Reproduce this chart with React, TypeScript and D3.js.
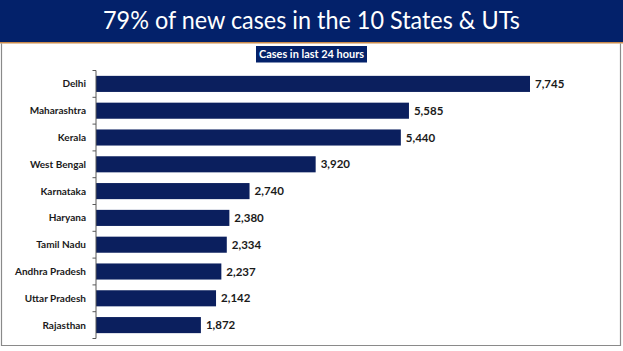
import { useEffect, useRef } from 'react';
import * as d3 from 'd3';

const states = [
  'Delhi',
  'Maharashtra',
  'Kerala',
  'West Bengal',
  'Karnataka',
  'Haryana',
  'Tamil Nadu',
  'Andhra Pradesh',
  'Uttar Pradesh',
  'Rajasthan',
];
const cases = [7745, 5585, 5440, 3920, 2740, 2380, 2334, 2237, 2142, 1872];

const titleText = '79% of new cases in the 10 States & UTs';
const subtitleText = 'Cases in last 24 hours';

export default function App() {
  const svgRef = useRef<SVGSVGElement>(null);

  useEffect(() => {
    if (!svgRef.current) return;
    const width = 623;
    const height = 351;
    const svg = d3.select(svgRef.current);
    svg.selectAll('*').remove();

    const navy = '#0b1f5e';

    svg.append('rect').attr('width', width).attr('height', height).attr('fill', '#fff');

    // title band
    svg.append('rect').attr('x', 0).attr('y', 0).attr('width', width).attr('height', 42).attr('fill', '#03216a');
    svg.append('rect').attr('x', 0).attr('y', 42).attr('width', width).attr('height', 1.5).attr('fill', '#c98a4b');
    svg
      .append('text')
      .attr('x', 311.5)
      .attr('y', 29)
      .attr('text-anchor', 'middle')
      .attr('font-family', 'Lato, sans-serif')
      .attr('font-size', 24.5)
      .attr('textLength', 417)
      .attr('lengthAdjust', 'spacingAndGlyphs')
      .attr('fill', '#fff')
      .text(titleText);

    // frame
    svg
      .append('path')
      .attr('d', `M1.5,43.5 V345.5 H620.5 V43.5`)
      .attr('fill', 'none')
      .attr('stroke', '#8a8a8a')
      .attr('stroke-width', 1.2);

    // subtitle box
    svg.append('rect').attr('x', 256).attr('y', 46).attr('width', 111).attr('height', 16.5).attr('fill', '#03216a');
    svg
      .append('text')
      .attr('x', 311.5)
      .attr('y', 58)
      .attr('text-anchor', 'middle')
      .attr('font-family', 'Lato, sans-serif')
      .attr('font-weight', 700)
      .attr('font-size', 10.5)
      .attr('textLength', 105)
      .attr('lengthAdjust', 'spacingAndGlyphs')
      .attr('fill', '#fff')
      .text(subtitleText);

    const x = d3.scaleLinear().domain([0, 7745]).range([96, 530]);
    const y = d3.scaleBand().domain(states).range([70.5, 338.5]).paddingInner(0.4).paddingOuter(0.2);

    const g = svg.append('g');

    g.selectAll('rect.bar')
      .data(states)
      .enter()
      .append('rect')
      .attr('class', 'bar')
      .attr('x', x(0))
      .attr('y', (d) => y(d)!)
      .attr('width', (_, i) => x(cases[i]) - x(0))
      .attr('height', y.bandwidth())
      .attr('fill', navy);

    // axis line and ticks at band boundaries
    const step = y.step();
    const top = y.range()[0];
    g.append('line')
      .attr('x1', 96)
      .attr('x2', 96)
      .attr('y1', top)
      .attr('y2', top + step * states.length)
      .attr('stroke', '#595959')
      .attr('stroke-width', 1);
    g.selectAll('line.tick')
      .data(d3.range(states.length + 1))
      .enter()
      .append('line')
      .attr('class', 'tick')
      .attr('x1', 92.5)
      .attr('x2', 96)
      .attr('y1', (i) => top + i * step)
      .attr('y2', (i) => top + i * step)
      .attr('stroke', '#595959')
      .attr('stroke-width', 1);

    g.selectAll('text.cat')
      .data(states)
      .enter()
      .append('text')
      .attr('class', 'cat')
      .attr('x', 86)
      .attr('y', (d) => y(d)! + y.bandwidth() / 2)
      .attr('dy', '0.35em')
      .attr('text-anchor', 'end')
      .attr('font-family', 'Lato, sans-serif')
      .attr('font-weight', 700)
      .attr('font-size', 10)
      .attr('fill', '#1a1a1a')
      .text((d) => d);

    g.selectAll('text.val')
      .data(states)
      .enter()
      .append('text')
      .attr('class', 'val')
      .attr('x', (_, i) => x(cases[i]) + 5)
      .attr('y', (d) => y(d)! + y.bandwidth() / 2)
      .attr('dy', '0.35em')
      .attr('font-family', 'Lato, sans-serif')
      .attr('font-weight', 700)
      .attr('font-size', 11.5)
      .attr('fill', '#1a1a1a')
      .text((_, i) => d3.format(',')(cases[i]));
  }, []);

  return (
    <svg
      ref={svgRef}
      width={623}
      height={351}
      style={{ position: 'absolute', left: 0, top: 0, display: 'block' }}
    />
  );
}
